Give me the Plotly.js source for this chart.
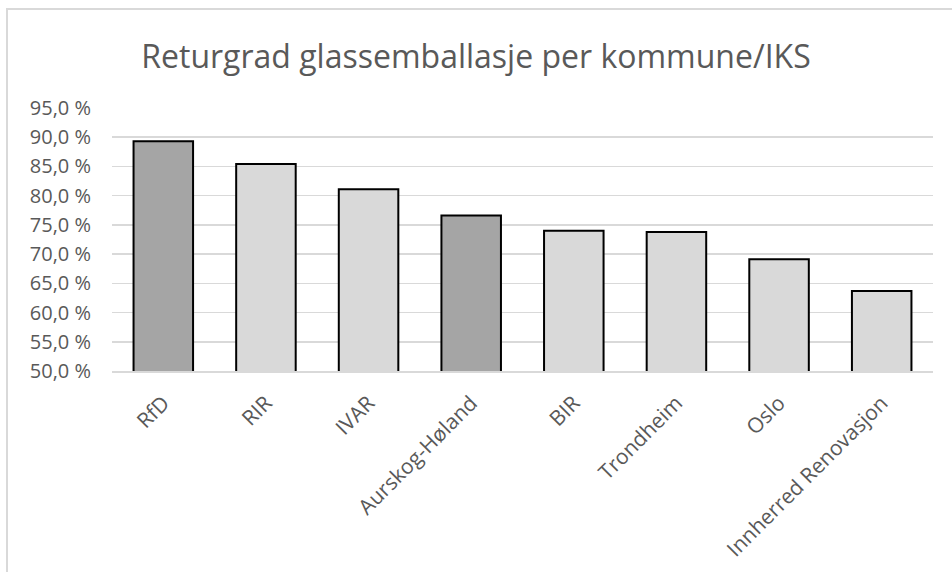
<!DOCTYPE html>
<html>
<head>
<meta charset="utf-8">
<script src="https://cdn.plot.ly/plotly-3.0.1.min.js"></script>
<style>
  html, body { margin: 0; padding: 0; background: #fff; }
  #wrap { position: relative; width: 952px; height: 572px; overflow: hidden; }
  #frame { position: absolute; left: 6px; top: 8px; width: 1000px; height: 700px; border: 2px solid #D9D9D9; box-sizing: border-box; pointer-events: none; }
  #chart { position: absolute; left: 0; top: 0; width: 952px; height: 572px; }
</style>
</head>
<body>
<div id="wrap">
  <div id="chart"></div>
  <div id="frame"></div>
</div>
<script>
const categories = ["RfD", "RIR", "IVAR", "Aurskog-Høland", "BIR", "Trondheim", "Oslo", "Innherred Renovasjon"];
const values = [89.3, 85.4, 81.1, 76.6, 74.0, 73.8, 69.1, 63.7];
const highlighted = [true, false, false, true, false, false, false, false];
const tickVals = [50, 55, 60, 65, 70, 75, 80, 85, 90, 95];
const tickLabels = ["50,0 %", "55,0 %", "60,0 %", "65,0 %", "70,0 %", "75,0 %", "80,0 %", "85,0 %", "90,0 %", "95,0 %"];

const DARK = "#A5A5A5", LIGHT = "#D9D9D9";
const FONT = "Open Sans, sans-serif";

const trace = {
  type: "bar",
  x: categories,
  y: values,
  marker: {
    color: highlighted.map(h => h ? DARK : LIGHT),
    line: { color: "#000000", width: 2 }
  },
  hoverinfo: "x+y"
};

const layout = {
  width: 952, height: 572,
  paper_bgcolor: "rgba(0,0,0,0)", plot_bgcolor: "rgba(0,0,0,0)",
  margin: { l: 112, r: 19, t: 108, b: 201 },
  bargap: 0.42,
  showlegend: false,
  title: {
    text: "Returgrad glassemballasje per kommune/IKS",
    font: { family: FONT, size: 32, color: "#595959" },
    x: 0.5, xanchor: "center",
    y: 1 - 57 / 572, yref: "container", yanchor: "middle"
  },
  xaxis: {
    type: "category",
    tickangle: -45,
    tickfont: { family: FONT, size: 21, color: "#595959" },
    showgrid: false,
    showline: true, linecolor: "#D9D9D9", linewidth: 1.5,
    ticks: "", ticklabelstandoff: 10, automargin: false
  },
  yaxis: {
    range: [50, 95],
    tickvals: tickVals,
    ticktext: tickLabels,
    tickfont: { family: FONT, size: 20, color: "#595959" },
    showgrid: true, gridcolor: "#D9D9D9", gridwidth: 1.5,
    zeroline: false, showline: false, ticks: "",
    ticklabelstandoff: 20,
    automargin: false
  }
};

Plotly.newPlot("chart", [trace], layout, { displayModeBar: false, staticPlot: true });
</script>
</body>
</html>
